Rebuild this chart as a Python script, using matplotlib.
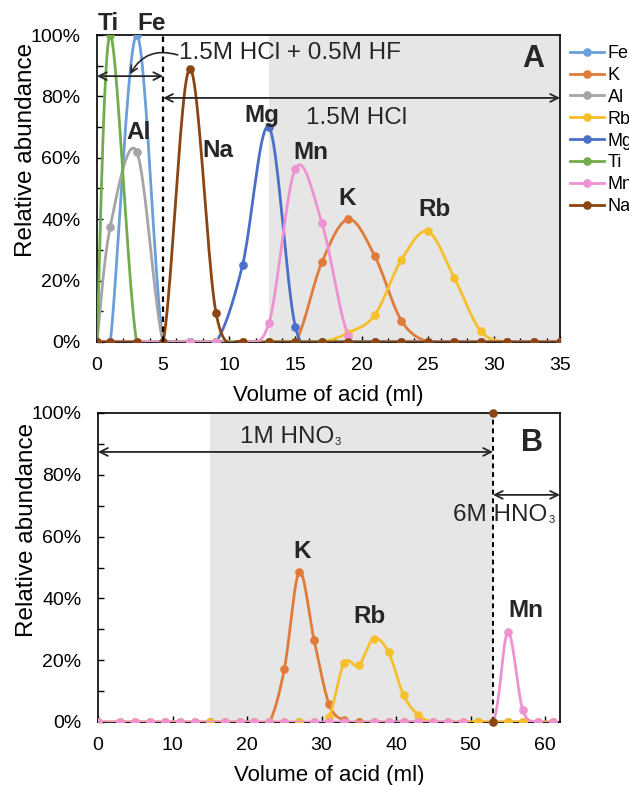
import matplotlib
matplotlib.use("Agg")
import matplotlib.pyplot as plt
import numpy as np
from matplotlib.lines import Line2D
from matplotlib.ticker import MultipleLocator, PercentFormatter

plt.rcParams['font.family'] = 'Liberation Sans'

# ---------------- panel A data (fractions) ----------------
xa = [0, 1, 3, 5, 7, 9, 11, 13, 15, 17, 19, 21, 23, 25, 27, 29, 31, 33, 35]
a_fe = [0, 0, 1.0, 0, 0, 0, 0, 0, 0, 0, 0, 0, 0, 0, 0, 0, 0, 0, 0]
a_k = [0, 0, 0, 0, 0, 0, 0, 0, 0, 0.26, 0.40, 0.28, 0.07, 0, 0, 0, 0, 0, 0]
a_al = [0, 0.375, 0.62, 0, 0, 0, 0, 0, 0, 0, 0, 0, 0, 0, 0, 0, 0, 0, 0]
a_rb = [0, 0, 0, 0, 0, 0, 0, 0, 0, 0, 0.03, 0.088, 0.267, 0.36, 0.21, 0.036, 0, 0, 0]
a_mg = [0, 0, 0, 0, 0, 0, 0.25, 0.70, 0.049, 0, 0, 0, 0, 0, 0, 0, 0, 0, 0]
a_ti = [0, 1.0, 0, 0, 0, 0, 0, 0, 0, 0, 0, 0, 0, 0, 0, 0, 0, 0, 0]
a_mn = [0, 0, 0, 0, 0, 0, 0, 0.062, 0.565, 0.388, 0.02, 0, 0, 0, 0, 0, 0, 0, 0]
a_na = [0, 0, 0, 0, 0.89, 0.094, 0, 0, 0, 0, 0, 0, 0, 0, 0, 0, 0, 0, 0]

names = ['Fe', 'K', 'Al', 'Rb', 'Mg', 'Ti', 'Mn', 'Na']
colors = {'Fe': '#6A9FDA', 'K': '#E07B39', 'Al': '#A5A5A5', 'Rb': '#F5C02C',
          'Mg': '#4A6FC8', 'Ti': '#72AC4D', 'Mn': '#EE92D2', 'Na': '#8B4513'}
series_a = [a_fe, a_k, a_al, a_rb, a_mg, a_ti, a_mn, a_na]

# ---------------- panel B data ----------------
xb = [0, 3, 5, 7, 9, 11, 13, 15, 17, 19, 21, 23, 25, 27, 29, 31, 33, 35, 37, 39,
      41, 43, 45, 47, 49, 51, 53, 55, 57, 59, 61]
b_k = [0, 0, 0, 0, 0, 0, 0, 0, 0, 0, 0, 0, 0.17, 0.485, 0.265, 0.058, 0.005, 0, 0, 0,
       0, 0, 0, 0, 0, 0, 0, 0, 0, 0, 0]
b_rb = [0, 0, 0, 0, 0, 0, 0, 0, 0, 0, 0, 0, 0, 0, 0, 0.016, 0.19, 0.184, 0.27, 0.225,
        0.087, 0.022, 0, 0, 0, 0, 0, 0, 0, 0, 0]
b_mn_x = [0, 3, 5, 7, 9, 11, 13, 17, 19, 21, 23, 25, 29, 31, 33, 37, 39, 41, 43, 45,
          47, 49, 53, 55, 57, 59, 61]
b_mn = [0, 0, 0, 0, 0, 0, 0, 0, 0, 0, 0, 0, 0, 0, 0, 0, 0, 0, 0, 0,
        0, 0, 0, 0.29, 0.039, 0, 0]
b_ti_x = [15, 27, 35, 51, 53, 55, 57]
b_ti = [0, 0, 0, 0, 0, 0, 0]
b_na_x = [53, 53]
b_na = [0, 1.0]


def smooth(x, y, n=24):
    # Excel-like smoothed line (Bezier through the points)
    p = np.column_stack([x, y]).astype(float)
    t = np.linspace(0, 1, n)[:, None]
    out = [p[:1]]
    for i in range(len(p) - 1):
        p0 = p[max(i - 1, 0)]
        p1 = p[i]
        p2 = p[i + 1]
        p3 = p[min(i + 2, len(p) - 1)]
        c1 = p1 + (p2 - p0) / 6
        c2 = p2 - (p3 - p1) / 6
        seg = (1 - t) ** 3 * p1 + 3 * (1 - t) ** 2 * t * c1 + 3 * (1 - t) * t ** 2 * c2 + t ** 3 * p2
        out.append(seg[1:])
    s = np.vstack(out)
    return s[:, 0], s[:, 1]


def draw(ax, x, y, c):
    sx, sy = smooth(x, y)
    ax.plot(sx, sy, color=c, lw=2, zorder=3, solid_capstyle='round')
    ax.plot(x, y, 'o', color=c, ms=5.2, zorder=3)


def style(ax, xmax, xmajor, xminor):
    ax.set_xlim(0, xmax)
    ax.set_ylim(0, 1)
    ax.xaxis.set_major_locator(MultipleLocator(xmajor))
    if xminor:
        ax.xaxis.set_minor_locator(MultipleLocator(xminor))
    ax.yaxis.set_major_locator(MultipleLocator(0.2))
    ax.yaxis.set_minor_locator(MultipleLocator(0.1))
    ax.yaxis.set_major_formatter(PercentFormatter(1.0, decimals=0))
    ax.tick_params(which='both', direction='in', labelsize=14, width=1, colors='black')
    ax.tick_params(axis='y', which='major', length=4, pad=12)
    ax.tick_params(axis='y', which='minor', length=4)
    ax.tick_params(axis='x', which='major', length=4, pad=11)
    ax.tick_params(axis='x', which='minor', length=3)
    for s in ax.spines.values():
        s.set_linewidth(1.2)
    ax.set_xlabel('Volume of acid (ml)', fontsize=16, labelpad=7.5)
    ax.set_ylabel('Relative abundance', fontsize=17.5)


def hno3(ax, x, y, prefix):
    # formula with a small subscript 3
    t = ax.text(x, y, prefix + ' HNO', fontsize=17.5, va='center', ha='left', color='#262626')
    ax.annotate('3', xy=(1, 0), xycoords=t, xytext=(0.5, 1), textcoords='offset points',
                fontsize=8, va='bottom', ha='left', color='#262626')


fig = plt.figure(figsize=(6.29, 7.85), dpi=100)
axA = fig.add_axes([97 / 629, 1 - 342 / 785, 463 / 629, 307 / 785])
axB = fig.add_axes([98 / 629, 1 - 722 / 785, 462 / 629, 309 / 785])

# ---------------- panel A ----------------
axA.axvspan(13, 35, color='#E6E6E6', zorder=0, lw=0)
for nm, ys in zip(names, series_a):
    draw(axA, xa, ys, colors[nm])
axA.plot([5, 5], [0, 1], ls=(0, (2.5, 2)), color='black', lw=1.6, zorder=4)
style(axA, 35, 5, 1)
axA.yaxis.set_label_coords(-0.13, 0.625)

arr = dict(arrowstyle='<->', color='#262626', lw=1.3, mutation_scale=14,
           shrinkA=0, shrinkB=0)
axA.annotate('', xy=(0, 0.866), xytext=(5, 0.866), arrowprops=arr, zorder=5)
axA.annotate('', xy=(5, 0.795), xytext=(35, 0.795), arrowprops=arr, zorder=5,
             annotation_clip=False)
axA.annotate('', xy=(2.5, 0.872), xytext=(6.1, 0.935),
             arrowprops=dict(arrowstyle='->', color='#262626', lw=1.2, mutation_scale=12,
                             shrinkA=0, shrinkB=0, connectionstyle='arc3,rad=0.4'))
axA.text(6.2, 0.94, '1.5M HCl + 0.5M HF', fontsize=17.5, va='center', ha='left', color='#262626')
axA.text(15.8, 0.73, '1.5M HCl', fontsize=17.5, va='center', ha='left', color='#262626')

lab = dict(fontsize=17.5, fontweight='bold', ha='center', va='center', color='#262626')
axA.text(0.83, 1.039, 'Ti', clip_on=False, **lab)
axA.text(4.13, 1.039, 'Fe', clip_on=False, **lab)
axA.text(3.15, 0.681, 'Al', **lab)
axA.text(9.1, 0.625, 'Na', **lab)
axA.text(12.45, 0.739, 'Mg', **lab)
axA.text(16.2, 0.616, 'Mn', **lab)
axA.text(18.9, 0.469, 'K', **lab)
axA.text(25.5, 0.433, 'Rb', **lab)
axA.text(33.0, 0.922, 'A', fontsize=22, fontweight='bold', ha='center', va='center', color='#262626')

handles = [Line2D([0], [0], color=colors[n], lw=2, marker='o', ms=5.2) for n in names]
fig.legend(handles, names, loc='upper left', bbox_to_anchor=(570 / 629, 1 - 45 / 785),
           frameon=False, fontsize=13, handlelength=1.9, handletextpad=0.2,
           labelspacing=0.27, borderaxespad=0, borderpad=0)

# ---------------- panel B ----------------
axB.axvspan(15, 53, color='#E6E6E6', zorder=0, lw=0)
draw(axB, b_ti_x, b_ti, colors['Ti'])
draw(axB, xb, b_k, colors['K'])
draw(axB, xb, b_rb, colors['Rb'])
draw(axB, b_mn_x, b_mn, colors['Mn'])
axB.plot(b_na_x, b_na, ls=(0, (2.5, 2)), color='black', lw=1.4, zorder=4)
axB.plot(b_na_x, b_na, 'o', color=colors['Na'], ms=5.2, zorder=5, clip_on=False)
style(axB, 62, 10, None)
axB.yaxis.set_label_coords(-0.13, 0.621)

axB.annotate('', xy=(0, 0.874), xytext=(53, 0.874), arrowprops=arr, zorder=5)
axB.annotate('', xy=(53, 0.735), xytext=(62, 0.735), arrowprops=arr, zorder=5,
             annotation_clip=False)
hno3(axB, 19.0, 0.922, '1M')
hno3(axB, 47.7, 0.67, '6M')
axB.text(27.4, 0.553, 'K', **lab)
axB.text(36.4, 0.343, 'Rb', **lab)
axB.text(57.4, 0.362, 'Mn', **lab)
axB.text(58.2, 0.903, 'B', fontsize=22, fontweight='bold', ha='center', va='center', color='#262626')

fig.savefig('out.png', dpi=100)
